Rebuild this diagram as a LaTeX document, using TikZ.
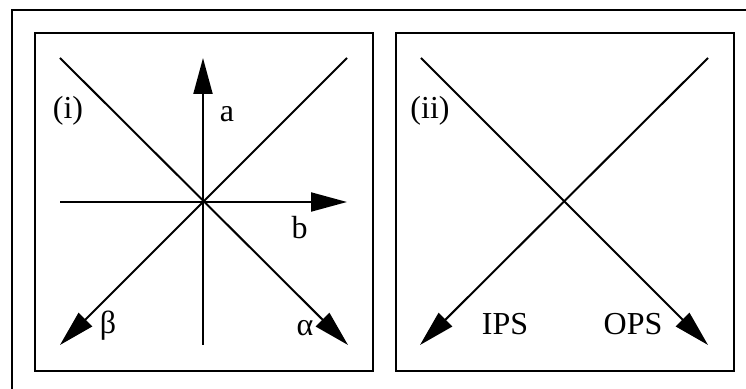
\documentclass[tikz,border=0pt]{standalone}
\usepackage{fontspec}
\setmainfont{Liberation Serif}
\usetikzlibrary{arrows.meta}
\tikzset{
    panel/.style = {
        draw,
        line width = 1.3pt,
    },
    axis/.style = {line width = 1pt},
    ray/.style = {line width = 1pt, -{Triangle[length=18pt, width=9.5pt]}},
    tag/.style = {
        inner sep = 0pt,
        font = \fontsize{16}{19}\selectfont,
    }
}

\begin{document}
\begin{tikzpicture}[x=0.5pt, y=-0.5pt]
  \useasboundingbox (0,0) rectangle (746,389);

  % Outer frame (only its top and left edges lie on the page)
  \draw[line width=1pt] (12,389) |- (746,10);

  % The two panels
  \draw[panel] (35,33) rectangle (373,371);
  \draw[panel] (396,33) rectangle (734,371);

  % Panel (i): end points of the axes
  \coordinate (tl1) at (60,58);
  \coordinate (br1) at (348,345);
  \coordinate (tr1) at (347,58);
  \coordinate (bl1) at (60,345);
  \coordinate (vb1) at (203,345);
  \coordinate (vt1) at (203,58);
  \coordinate (hl1) at (60,202);
  \coordinate (hr1) at (347,202);

  \draw[ray] (tl1) -- (br1);
  \draw[ray] (tr1) -- (bl1);
  \draw[ray] (vb1) -- (vt1);
  \draw[ray] (hl1) -- (hr1);

  \node[tag] (n1)    at (68,111)    {(i)};
  \node[tag] (a)     at (227,114)   {a};
  \node[tag] (b)     at (299.5,227.5) {b};
  \node[tag] (beta)  at (108,326)   {β};
  \node[tag] (alpha) at (305,328)   {α};

  % Panel (ii): end points of the two lines
  \coordinate (tl2) at (421,58);
  \coordinate (br2) at (708,345);
  \coordinate (tr2) at (708,58);
  \coordinate (bl2) at (420,345);

  \draw[ray] (tl2) -- (br2);
  \draw[ray] (tr2) -- (bl2);

  \node[tag] (n2)  at (430,111) {(ii)};
  \node[tag] (ips) at (505,324) {IPS};
  \node[tag] (ops) at (633,324) {OPS};

\end{tikzpicture}
\end{document}
